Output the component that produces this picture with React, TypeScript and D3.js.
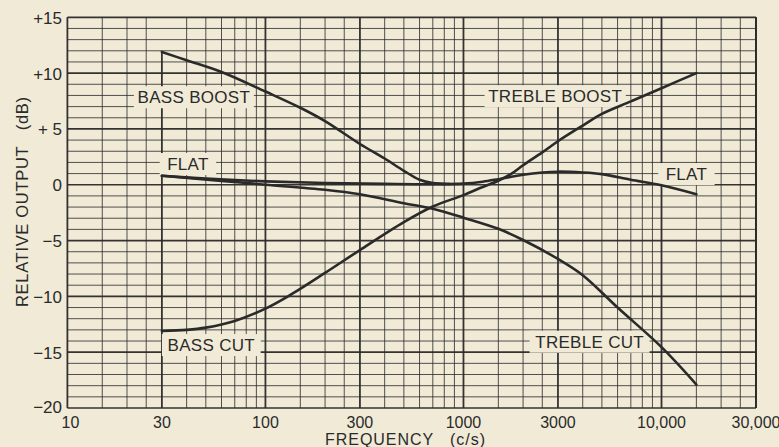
import * as d3 from 'd3';

// frequency axis (c/s) and relative output (dB)
const xTickValues = [10, 30, 100, 300, 1000, 3000, 10000, 30000];
const xTickLabels = ['10', '30', '100', '300', '1000', '3000', '10,000', '30,000'];
const yTickValues = [15, 10, 5, 0, -5, -10, -15, -20];
const yTickLabels = ['+15', '+10', '+ 5', '0', '\u22125', '\u221210', '\u221215', '\u221220'];
const gridMultipliers = [1, 1.5, 2, 2.5, 3, 4, 5, 6, 7, 8, 9];

const flatFreq = [30, 50, 100, 200, 400, 700, 1000, 1250, 1500, 2000, 2500, 3000, 4000, 5000, 7000, 10000, 15000];
const flatDb = [0.8, 0.55, 0.3, 0.15, 0.08, 0.05, 0.1, 0.27, 0.5, 0.9, 1.1, 1.17, 1.1, 0.95, 0.45, -0.05, -0.85];

const bassBoostFreq = [30, 40, 60, 100, 150, 200, 300, 400, 500, 600, 700, 850];
const bassBoostDb = [11.9, 11.15, 10.1, 8.35, 6.9, 5.7, 3.65, 2.35, 1.25, 0.45, 0.15, 0.07];

const trebleCutFreq = [30, 60, 100, 200, 300, 500, 700, 1000, 1500, 2000, 3000, 4000, 6000, 10000, 15000];
const trebleCutDb = [0.8, 0.35, 0.0, -0.45, -0.85, -1.65, -2.15, -2.95, -3.95, -4.95, -6.65, -8.1, -11.0, -14.55, -17.9];

const bassCutTrebleBoostFreq = [30, 40, 50, 70, 100, 130, 200, 300, 500, 700, 1000, 1250, 1500, 1750, 2000, 2500, 3000, 4000, 5000, 7000, 10000, 15000];
const bassCutTrebleBoostDb = [-13.1, -13.0, -12.8, -12.2, -11.1, -10.0, -7.9, -5.85, -3.35, -1.95, -0.93, -0.2, 0.36, 1.0, 1.75, 2.9, 3.9, 5.3, 6.35, 7.47, 8.65, 10.0];

const labelTexts = ['BASS BOOST', 'TREBLE BOOST', 'FLAT', 'FLAT', 'BASS CUT', 'TREBLE CUT'];
const labelFreq = [43.5, 2904, 40.6, 13360, 53.3, 4334];
const labelDb = [7.3, 7.4, 1.32, 0.42, -14.9, -14.6];

const W = 779;
const H = 447;
const BG = '#f0ead7';
const INK = '#2a2a2a';
const FONT = '"Liberation Sans", Arial, sans-serif';

const x = d3.scaleLog().domain([10, 30000]).range([67.4, 756]);
const y = d3.scaleLinear().domain([-20, 15]).range([408, 17.3]);

type Pt = { f: number; db: number };
const zip = (fs: number[], ds: number[]): Pt[] => fs.map((f, i) => ({ f, db: ds[i] }));

const line = d3.line<Pt>()
  .x(d => x(d.f))
  .y(d => y(d.db))
  .curve(d3.curveCatmullRom.alpha(0.5));

const series = [
  zip(flatFreq, flatDb),
  zip(bassBoostFreq, bassBoostDb),
  zip(trebleCutFreq, trebleCutDb),
  zip(bassCutTrebleBoostFreq, bassCutTrebleBoostDb),
];

export default function App() {
  const [x0, x1] = x.range();
  const [y0, y1] = y.range();

  const vLines: { f: number; bold: boolean }[] = [];
  [10, 100, 1000, 10000].forEach(dec => {
    gridMultipliers.forEach(m => {
      const f = dec * m;
      if (f <= 30000) vLines.push({ f, bold: m === 1 || m === 3 });
    });
  });
  vLines.push({ f: 30000, bold: true });

  const hLines = d3.range(-20, 16, 1);

  return (
    <div style={{ position: 'absolute', left: 0, top: 0 }}>
      <svg width={W} height={H} style={{ display: 'block' }}>
        <rect x={0} y={0} width={W} height={H} fill={BG} />

        <g className="grid">
          {hLines.map(v => (
            <line
              key={`h${v}`}
              x1={x0}
              x2={x1}
              y1={y(v)}
              y2={y(v)}
              stroke={INK}
              strokeWidth={v % 5 === 0 ? 1.7 : 1}
              opacity={v % 5 === 0 ? 0.95 : 0.8}
            />
          ))}
          {vLines.map(d => (
            <line
              key={`v${d.f}`}
              x1={x(d.f)}
              x2={x(d.f)}
              y1={y0}
              y2={d.f === 30 ? y(bassBoostDb[0]) : y1}
              stroke={INK}
              strokeWidth={d.bold ? 1.8 : 1}
              opacity={d.bold ? 0.95 : 0.8}
            />
          ))}
        </g>

        <g className="labels">
          {labelTexts.map((t, i) => {
            const cx = x(labelFreq[i]);
            const by = y(labelDb[i]);
            const w = t.length * 10.6 + 14;
            return (
              <g key={`l${i}`}>
                <rect x={cx - w / 2} y={by - 17} width={w} height={22} fill={BG} />
                <text
                  x={cx}
                  y={by}
                  textAnchor="middle"
                  fontFamily={FONT}
                  fontSize={17}
                  fill={INK}
                  letterSpacing={0.3}
                >
                  {t}
                </text>
              </g>
            );
          })}
        </g>

        <g className="curves">
          {series.map((s, i) => (
            <path
              key={`c${i}`}
              d={line(s) || ''}
              fill="none"
              stroke={INK}
              strokeWidth={2.6}
              strokeLinecap="round"
              strokeLinejoin="round"
            />
          ))}
        </g>

        <g className="y-ticks">
          {yTickValues.map((v, i) => (
            <text
              key={`yt${v}`}
              x={62}
              y={y(v) + (v === -20 ? 5 : 6.5)}
              textAnchor="end"
              fontFamily={FONT}
              fontSize={17}
              fill={INK}
              style={{ whiteSpace: 'pre' }}
            >
              {yTickLabels[i]}
            </text>
          ))}
        </g>

        <g className="x-ticks">
          {xTickValues.map((v, i) => (
            <text
              key={`xt${v}`}
              x={x(v) + (i === 0 ? 3 : 0)}
              y={428}
              textAnchor="middle"
              fontFamily={FONT}
              fontSize={16}
              fill={INK}
            >
              {xTickLabels[i]}
            </text>
          ))}
        </g>

        <text
          x={405}
          y={445}
          textAnchor="middle"
          fontFamily={FONT}
          fontSize={16}
          fill={INK}
          textLength={160}
          lengthAdjust="spacing"
          style={{ whiteSpace: 'pre' }}
        >
          {'FREQUENCY   (c/s)'}
        </text>

        <text
          transform={`translate(28, 202) rotate(-90)`}
          textAnchor="middle"
          fontFamily={FONT}
          fontSize={16.5}
          fill={INK}
          textLength={210}
          lengthAdjust="spacing"
          style={{ whiteSpace: 'pre' }}
        >
          {'RELATIVE OUTPUT   (dB)'}
        </text>
      </svg>
    </div>
  );
}
